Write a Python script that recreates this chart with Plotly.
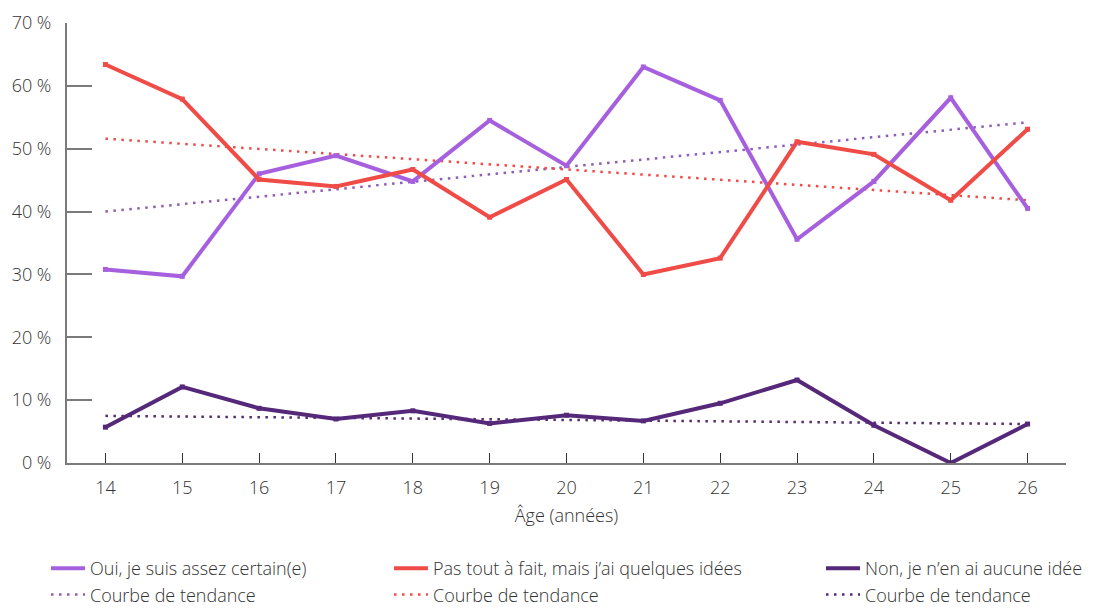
import plotly.graph_objects as go

ages = [14, 15, 16, 17, 18, 19, 20, 21, 22, 23, 24, 25, 26]
oui = [30.8, 29.7, 46.0, 48.9, 44.8, 54.5, 47.3, 63.0, 57.7, 35.6, 44.8, 58.1, 40.5]
pas = [63.4, 57.9, 45.1, 44.0, 46.7, 39.1, 45.1, 30.0, 32.6, 51.1, 49.1, 41.8, 53.1]
non = [5.7, 12.1, 8.7, 7.0, 8.3, 6.3, 7.6, 6.7, 9.5, 13.2, 6.0, 0.0, 6.2]

trend_x = [14, 26]
trend_oui = [40.0, 54.2]
trend_pas = [51.6, 41.8]
trend_non = [7.5, 6.2]

y_ticks = [0, 10, 20, 30, 40, 50, 60, 70]
y_labels = ["0 %", "10 %", "20 %", "30 %", "40 %", "50 %", "60 %", "70 %"]
x_labels = ["14", "15", "16", "17", "18", "19", "20", "21", "22", "23", "24", "25", "26"]

names = ["Oui, je suis assez certain(e)",
         "Pas tout à fait, mais j’ai quelques idées",
         "Non, je n’en ai aucune idée"]
trend_name = "Courbe de tendance"

c_oui = "#A660DE"
c_pas = "#EF4B47"
c_non = "#55287A"
c_oui_t = "#8E5DB5"

FONT = "Open Sans"
TXT = "#333333"
FS = 18

fig = go.Figure()

series = [(oui, trend_oui, c_oui, c_oui_t, "legend"),
          (pas, trend_pas, c_pas, c_pas, "legend2"),
          (non, trend_non, c_non, c_non, "legend3")]

for i, (vals, tr, col, tcol, lg) in enumerate(series):
    fig.add_trace(go.Scatter(
        x=trend_x, y=tr, name=trend_name, mode="lines",
        line=dict(color=tcol, width=2.5, dash="2.5px,5.5px"),
        legend=lg, legendgroup=f"b{i}", legendrank=2))
for i, (vals, tr, col, tcol, lg) in enumerate(series):
    fig.add_trace(go.Scatter(
        x=ages, y=vals, name=names[i], mode="lines",
        line=dict(color=col, width=4),
        legend=lg, legendgroup=f"a{i}", legendrank=1))
    fig.add_trace(go.Scatter(
        x=ages, y=vals, mode="markers", showlegend=False,
        marker=dict(symbol="square", size=5, color=col),
        legend=lg, legendgroup=f"a{i}", hoverinfo="skip"))

leg_common = dict(orientation="v", xref="container", yref="container",
                  xanchor="left", yanchor="top", y=1 - 550 / 610,
                  itemwidth=34, tracegroupgap=0,
                  font=dict(family=FONT, size=FS, color=TXT, weight=300),
                  bgcolor="rgba(0,0,0,0)", traceorder="grouped")

fig.update_layout(
    width=1109, height=610,
    margin=dict(l=67, r=43, t=23, b=147, autoexpand=False),
    plot_bgcolor="white", paper_bgcolor="white",
    font=dict(family=FONT, size=FS, color=TXT, weight=300),
    showlegend=True,
    legend=dict(x=46 / 1109, **leg_common),
    legend2=dict(x=389 / 1109, **leg_common),
    legend3=dict(x=821 / 1109, **leg_common),
    xaxis=dict(
        range=[13.5, 26.5], tickmode="array", tickvals=ages,
        ticktext=x_labels,
        showgrid=False, zeroline=False,
        showline=True, linecolor="#7A7A7A", linewidth=2,
        ticks="inside", ticklen=10, tickcolor="#333333", tickwidth=1,
        tickfont=dict(family=FONT, size=FS, color=TXT, weight=300),
        ticklabelstandoff=7,
        title=dict(text="Âge (années)", standoff=12,
                   font=dict(family=FONT, size=FS, color=TXT, weight=300)),
    ),
    yaxis=dict(
        range=[0, 70], tickmode="array", tickvals=y_ticks,
        ticktext=y_labels, showgrid=False, zeroline=False,
        showline=True, linecolor="#7A7A7A", linewidth=2,
        ticks="inside", ticklen=25, tickcolor="#7A7A7A", tickwidth=2,
        tickfont=dict(family=FONT, size=FS, color=TXT, weight=300),
        ticklabelstandoff=10,
    ),
)

fig.write_html("out.html", config={"displayModeBar": False},
               post_script="document.body.style.margin='0';document.body.style.overflow='hidden';")
